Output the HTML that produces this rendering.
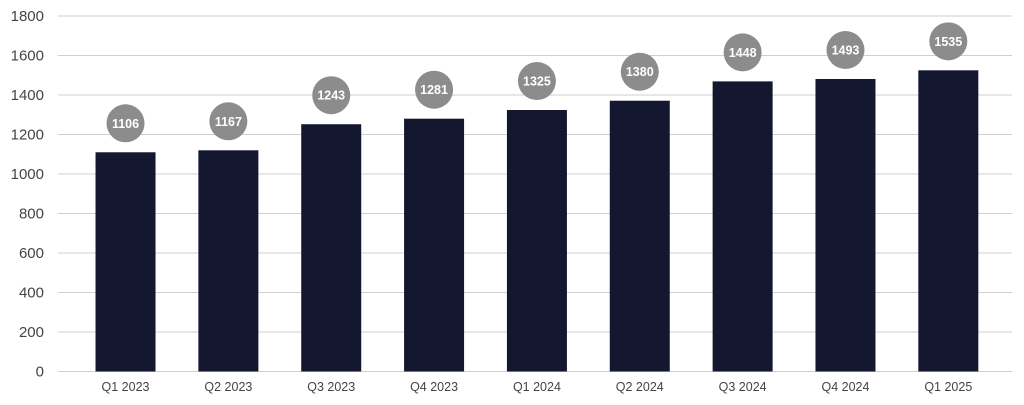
<!DOCTYPE html>
<html><head><meta charset="utf-8"><style>
html,body{margin:0;padding:0;background:#fff;width:1024px;height:405px;overflow:hidden}
svg{display:block;font-family:"Liberation Sans",sans-serif}
</style></head><body>
<svg id="chart" width="1024" height="405" viewBox="0 0 1024 405" xmlns="http://www.w3.org/2000/svg"></svg>
<script>
const categories=["Q1 2023","Q2 2023","Q3 2023","Q4 2023","Q1 2024","Q2 2024","Q3 2024","Q4 2024","Q1 2025"];
const barValues=[1110,1120,1252,1280,1324,1371,1469,1481,1525];
const labelValues=[1106,1167,1243,1281,1325,1380,1448,1493,1535];
const yTicks=[0,200,400,600,800,1000,1200,1400,1600,1800];
const svg=document.getElementById('chart');
const NS='http://www.w3.org/2000/svg';
const plotTop=16,plotBottom=371.5,yMax=1800,gridLeft=58,gridRight=1012;
const bandStart=74.1,step=102.85,barW=60;
function y(v){return plotBottom-(v/yMax)*(plotBottom-plotTop);}
function xc(i){return bandStart+step*(i+0.5);}
function el(tag,attrs,text){const e=document.createElementNS(NS,tag);for(const k in attrs)e.setAttribute(k,attrs[k]);if(text!==undefined)e.textContent=text;svg.appendChild(e);return e;}
yTicks.forEach(t=>{
  const g=el('line',{x1:gridLeft,x2:gridRight,y1:y(t),y2:y(t),stroke:'#cfcfcf','stroke-width':1});
  
  
  const l=el('text',{x:44,y:y(t)+5,'text-anchor':'end','font-size':15,fill:'#444'},String(t));
  
  
});
categories.forEach((c,i)=>{
  const b=el('rect',{x:xc(i)-barW/2,y:y(barValues[i]),width:barW,height:plotBottom-y(barValues[i]),fill:'#141730'});
  
  
  const cy=y(barValues[i])-29;
  const ci=el('circle',{cx:xc(i),cy:cy,r:19,fill:'#8c8c8c'});
  
  
  const t=el('text',{x:xc(i),y:cy+4.5,'text-anchor':'middle','font-size':12.5,fill:'#fff','font-weight':'bold'},String(labelValues[i]));
  
  
  const xl=el('text',{x:xc(i),y:391,'text-anchor':'middle','font-size':12.5,fill:'#444'},c);
  
  
});
</script>
</body></html>
